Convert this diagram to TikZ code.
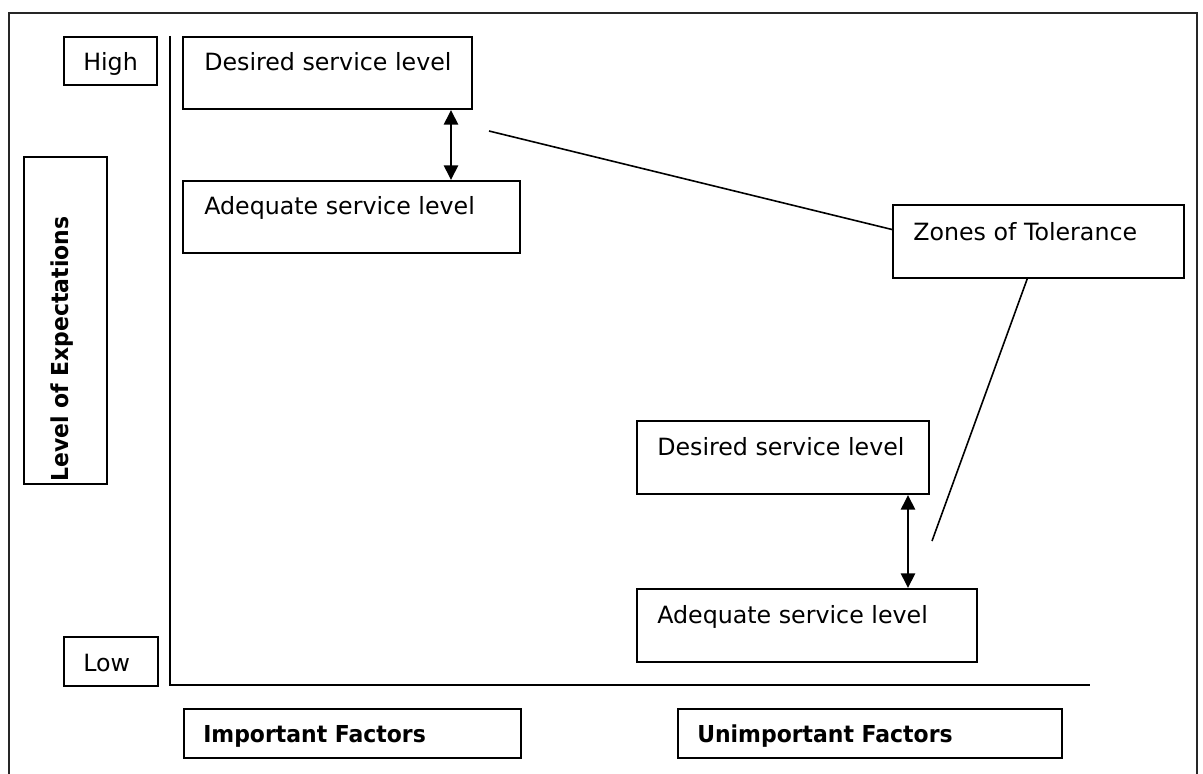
\documentclass[tikz,border=0pt]{standalone}
\usepackage{fontspec}
\setmainfont{DejaVu Sans}
\newfontfamily\bfam[FakeStretch=0.94]{DejaVu Sans Bold}
\usetikzlibrary{arrows.meta,calc}
\tikzset{
  px/.style={x=0.75pt,y=-0.75pt},
  box/.style={draw=black,line width=1.5pt,rectangle,inner sep=0pt,anchor=north west},
  txt/.style={anchor=base west,inner sep=0pt,font=\fontsize{17.8}{20}\selectfont},
  btxt/.style={anchor=base west,inner sep=0pt,font=\fontsize{17.5}{20}\selectfont\bfam},
  axis/.style={line width=1.5pt},
  dbl/.style={line width=2pt,{Triangle[width=10.5pt,length=11pt]}-{Triangle[width=10.5pt,length=11pt]}},
  lead/.style={line width=1.2pt}
}
\begin{document}
\begin{tikzpicture}[px]
\useasboundingbox (0,0) rectangle (1203,774);
% outer frame (open at the bottom)
\draw[line width=1.5pt,black!85] (9,774) -- (9,13) -- (1197,13) -- (1197,774);
% boxes
\node[box,minimum width=69.75pt,minimum height=36pt] (high) at (63,36) {};
\node[box,minimum width=70.5pt,minimum height=36.75pt] (low) at (63,636) {};
\node[box,minimum width=62.25pt,minimum height=245.25pt] (loe) at (23,156) {};
\node[box,minimum width=216.75pt,minimum height=54pt] (d1) at (182,36) {};
\node[box,minimum width=252.75pt,minimum height=54pt] (a1) at (182,180) {};
\node[box,minimum width=218.25pt,minimum height=54.75pt] (z) at (892,204) {};
\node[box,minimum width=219pt,minimum height=54.75pt] (d2) at (636,420) {};
\node[box,minimum width=255pt,minimum height=54.75pt] (a2) at (636,588) {};
\node[box,minimum width=252.75pt,minimum height=36.75pt] (imp) at (183,708) {};
\node[box,minimum width=288pt,minimum height=36.75pt] (unimp) at (677,708) {};
% texts
\node[txt] at ([xshift=15pt,yshift=-26.25pt]high.north west) {High};
\node[txt] at ([xshift=15pt,yshift=-26.25pt]low.north west) {Low};
\node[txt] at ([xshift=16.5pt,yshift=-26.25pt]d1.north west) {Desired service level};
\node[txt] at ([xshift=16.5pt,yshift=-25.5pt]a1.north west) {Adequate service level};
\node[txt] at ([xshift=15.75pt,yshift=-27pt]z.north west) {Zones of Tolerance};
\node[txt] at ([xshift=15.75pt,yshift=-26.25pt]d2.north west) {Desired service level};
\node[txt] at ([xshift=15.75pt,yshift=-26.25pt]a2.north west) {Adequate service level};
\node[btxt] at ([xshift=15pt,yshift=-25.5pt]imp.north west) {Important Factors};
\node[btxt] at ([xshift=15pt,yshift=-25.5pt]unimp.north west) {Unimportant Factors};
\node[btxt,rotate=90] at ([xshift=33.75pt,yshift=2.25pt]loe.south west) {Level of Expectations};
% axes
\coordinate (ytop) at (170,36);
\coordinate (origin) at (170,685);
\coordinate (xend) at (1090,685);
\draw[axis] (ytop) -- (origin) -- (xend);
% double arrows
\draw[dbl] ([xshift=-16.5pt]d1.south east) -- ([xshift=-16.5pt]d1.south east |- a1.north);
\draw[dbl] ([xshift=-16.5pt]d2.south east) -- ([xshift=-16.5pt]d2.south east |- a2.north);
% leader lines to Zones of Tolerance
\coordinate (l1) at (489,131);
\coordinate (l2) at (932,541);
\draw[lead] (l1) -- ([yshift=9pt]z.west);
\draw[lead] ([xshift=-8.5pt]z.south) -- (l2);
\end{tikzpicture}
\end{document}
